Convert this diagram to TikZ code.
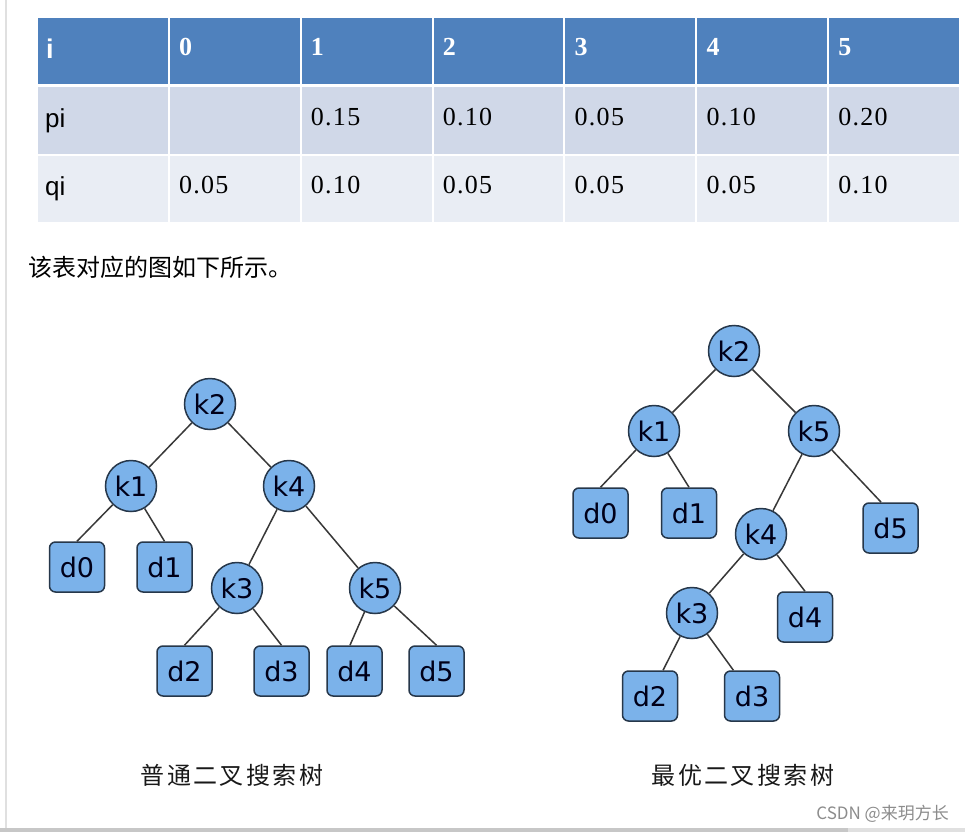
\documentclass[tikz,border=0pt]{standalone}
\usepackage{fontspec}
\setmainfont{Liberation Serif}
\setsansfont{Liberation Sans}
\newfontfamily\cjkfont{Noto Sans CJK SC}
\newfontfamily\capfont[LetterSpace=10]{Noto Sans CJK SC}
\newfontfamily\numfont[LetterSpace=5]{Liberation Serif}
\newfontfamily\treefont{DejaVu Sans}
\usepackage{tikz}
\definecolor{hdrblue}{HTML}{4F81BD}
\definecolor{rowpi}{HTML}{D0D8E8}
\definecolor{rowqi}{HTML}{E9EDF4}
\definecolor{nodefill}{HTML}{7BB2EA}
\definecolor{nodeline}{HTML}{26374A}

\begin{document}
\begin{tikzpicture}[x=1pt, y=-1pt,
  cell/.style={anchor=base west, inner sep=0pt},
  key/.style={circle, draw=nodeline, fill=nodefill, line width=1.5pt,
              minimum size=51pt, inner sep=0pt, text=black!90!blue,
              font=\treefont\fontsize{27}{27}\selectfont},
  leaf/.style={rectangle, rounded corners=6pt, draw=nodeline, fill=nodefill,
               line width=1.5pt, minimum width=55pt, minimum height=50pt,
               inner sep=0pt, text=black!90!blue,
               font=\treefont\fontsize{27}{27}\selectfont},
  edge/.style={draw=black!78, line width=1.5pt}]
  \useasboundingbox (0,0) rectangle (965,832);
  \fill[white] (0,0) rectangle (965,832);
  % page frame
  \fill[black!12] (5,0) rectangle (7,828);
  \fill[black!22] (0,828) rectangle (848,832);
  \fill[black!12] (848,828) rectangle (965,832);

  % Table of p_i and q_i
  \foreach \c in {0,...,6}{
    \fill[hdrblue] ({37+131.86*\c+1},18) rectangle ({37+131.86*(\c+1)-1},84);
    \fill[rowpi]   ({37+131.86*\c+1},87) rectangle ({37+131.86*(\c+1)-1},154);
    \fill[rowqi]   ({37+131.86*\c+1},156) rectangle ({37+131.86*(\c+1)-1},222);
  }
  \node[cell, white, font=\sffamily\bfseries\fontsize{27}{27}\selectfont] (hi) at (46,59) {i};
  \node[cell, font=\sffamily\fontsize{26}{26}\selectfont] (pi) at (45,127) {pi};
  \node[cell, font=\sffamily\fontsize{26}{26}\selectfont] (qi) at (45,195) {qi};
  \foreach \c/\hd/\pv/\qv in {1/0//0.05, 2/1/0.15/0.10, 3/2/0.10/0.05,
                              4/3/0.05/0.05, 5/4/0.10/0.05, 6/5/0.20/0.10}{
    \node[cell, white, font=\numfont\bfseries\fontsize{26}{26}\selectfont]
      (h\c) at ({37+131.86*\c+10},56) {\hd};
    \node[cell, font=\numfont\fontsize{26}{26}\selectfont]
      (p\c) at ({37+131.86*\c+10},125) {\pv};
    \node[cell, font=\numfont\fontsize{26}{26}\selectfont]
      (q\c) at ({37+131.86*\c+10},193) {\qv};
  }

  \node[anchor=west, inner sep=0pt, font=\cjkfont\fontsize{24}{24}\selectfont]
    (intro) at (28,267) {该表对应的图如下所示。};

  % Ordinary BST
  \node[key] (lk2) at (210,404) {k2};
  \node[key] (lk1) at (131,486) {k1};
  \node[key] (lk4) at (289,486) {k4};
  \node[key] (lk3) at (237,588) {k3};
  \node[key] (lk5) at (375,588) {k5};
  \node[leaf] (ld0) at (77,567) {d0};
  \node[leaf] (ld1) at (164.5,567) {d1};
  \node[leaf] (ld2) at (184.5,671) {d2};
  \node[leaf] (ld3) at (281.5,671) {d3};
  \node[leaf] (ld4) at (354.5,671) {d4};
  \node[leaf] (ld5) at (436.5,671) {d5};
  \draw[edge] (lk2) -- (lk1);
  \draw[edge] (lk2) -- (lk4);
  \draw[edge] (lk1) -- (ld0.north);
  \draw[edge] (lk1) -- (ld1.north);
  \draw[edge] (lk4) -- (lk3);
  \draw[edge] (lk4) -- (lk5);
  \draw[edge] (lk3) -- (ld2.north);
  \draw[edge] (lk3) -- (ld3.north);
  \draw[edge] (lk5) -- (ld4.100);
  \draw[edge] (lk5) -- (ld5.north);

  % Optimal BST
  \node[key] (rk2) at (734,351) {k2};
  \node[key] (rk1) at (654,431) {k1};
  \node[key] (rk5) at (814,431) {k5};
  \node[key] (rk4) at (761,534) {k4};
  \node[key] (rk3) at (692,613) {k3};
  \node[leaf] (rd0) at (600.5,513) {d0};
  \node[leaf] (rd1) at (689,513) {d1};
  \node[leaf] (rd5) at (890.5,528) {d5};
  \node[leaf] (rd4) at (805,617) {d4};
  \node[leaf] (rd2) at (650,696) {d2};
  \node[leaf] (rd3) at (752,696) {d3};
  \draw[edge] (rk2) -- (rk1);
  \draw[edge] (rk2) -- (rk5);
  \draw[edge] (rk1) -- (rd0.north);
  \draw[edge] (rk1) -- (rd1.north);
  \draw[edge] (rk5) -- (rk4);
  \draw[edge] (rk5) -- (rd5.110);
  \draw[edge] (rk4) -- (rk3);
  \draw[edge] (rk4) -- (rd4.north);
  \draw[edge] (rk3) -- (rd2);
  \draw[edge] (rk3) -- (rd3);

  % captions
  \node[inner sep=0pt, black!90, font=\capfont\fontsize{24}{24}\selectfont]
    (capl) at (232,775) {普通二叉搜索树};
  \node[inner sep=0pt, black!90, font=\capfont\fontsize{24}{24}\selectfont]
    (capr) at (743,775) {最优二叉搜索树};
  \node[anchor=east, inner sep=0pt, black!45, font=\cjkfont\fontsize{17}{17}\selectfont]
    (mark) at (949,814) {CSDN @来玥方长};
\end{tikzpicture}
\end{document}
